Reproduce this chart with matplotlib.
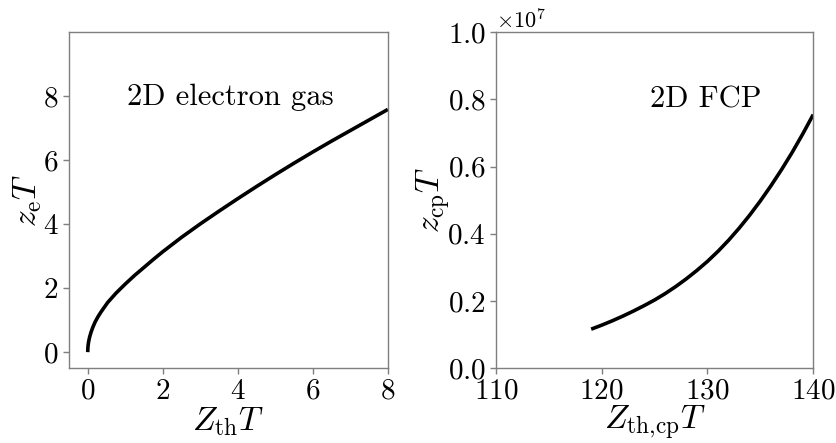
import numpy as np
import matplotlib
matplotlib.use("Agg")
import matplotlib.pyplot as plt

plt.rcParams["font.family"] = "serif"
plt.rcParams["font.serif"] = ["cmr10"]
plt.rcParams["mathtext.fontset"] = "cm"
plt.rcParams["axes.formatter.use_mathtext"] = True
plt.rcParams["axes.unicode_minus"] = False

# 2D electron gas: z_e T against Z_th T
zth_e = [0, 0.005, 0.01, 0.02, 0.03, 0.05, 0.09, 0.14, 0.2, 0.27,
         0.35, 0.53, 0.75, 1.0, 1.25, 1.5, 1.75, 2.0, 2.5, 3.0,
         3.5, 4.0, 4.5, 5.0, 5.5, 6.0, 6.5, 7.0, 7.5, 8.0]
ze = [0, 0.15, 0.21, 0.30, 0.36, 0.47, 0.63, 0.79, 0.95, 1.10,
      1.25, 1.55, 1.84, 2.13, 2.40, 2.65, 2.90, 3.14, 3.59, 4.01,
      4.41, 4.80, 5.18, 5.55, 5.91, 6.26, 6.60, 6.93, 7.26, 7.59]

# 2D FCP: z_cp T against Z_th,cp T (in units of 1e7)
zth_cp = [119, 120, 121, 122, 123, 124, 125, 126, 127, 128, 129,
          130, 131, 132, 133, 134, 135, 136, 137, 138, 139, 140]
zcp = [0.116, 0.128, 0.141, 0.155, 0.170, 0.186, 0.203, 0.222, 0.243,
       0.266, 0.291, 0.318, 0.348, 0.381, 0.417, 0.456, 0.498, 0.543,
       0.591, 0.642, 0.697, 0.755]
zcp_scale = 1e7

SPINE = "#7f7f7f"
TICK_FS = 21
LABEL_FS = 24

fig = plt.figure(figsize=(8.37, 4.43), dpi=100)
ax1 = fig.add_axes([0.0824, 0.169, 0.381, 0.758])
ax2 = fig.add_axes([0.5926, 0.169, 0.379, 0.758])

for ax in (ax1, ax2):
    for s in ax.spines.values():
        s.set_color(SPINE)
        s.set_linewidth(1.0)
    ax.tick_params(labelcolor="black", labelsize=TICK_FS, length=4,
                   width=1.0, color=SPINE)

# left panel
ax1.plot(zth_e, ze, color="black", lw=2.6, solid_capstyle="butt")
ax1.set_xlim(-0.5, 8)
ax1.set_ylim(-0.5, 10)
ax1.set_xticks([0, 2, 4, 6, 8])
ax1.set_yticks([0, 2, 4, 6, 8])
ax1.set_xlabel(r"$Z_{\rm th}T$", fontsize=LABEL_FS, labelpad=0)
ax1.set_ylabel(r"$z_{\rm e}T$", fontsize=LABEL_FS, labelpad=-1)
ax1.text(1.04, 7.72, "2D electron gas", fontsize=22)

# right panel
ax2.plot(zth_cp, np.array(zcp) * zcp_scale, color="black", lw=2.6,
         solid_capstyle="butt")
ax2.set_xlim(110, 140)
ax2.set_ylim(0, 1.0e7)
ax2.set_xticks([110, 120, 130, 140])
ax2.set_yticks(np.arange(0, 1.01e7, 0.2e7))
ax2.yaxis.get_offset_text().set_fontsize(16)
ax2.set_xlabel(r"$Z_{\rm th{,}cp}T$", fontsize=LABEL_FS, labelpad=-1)
ax2.set_ylabel(r"$z_{\rm cp}T$", fontsize=LABEL_FS, labelpad=-4)
ax2.text(124.6, 0.776e7, "2D FCP", fontsize=22)

fig.savefig("out.png", dpi=100)
